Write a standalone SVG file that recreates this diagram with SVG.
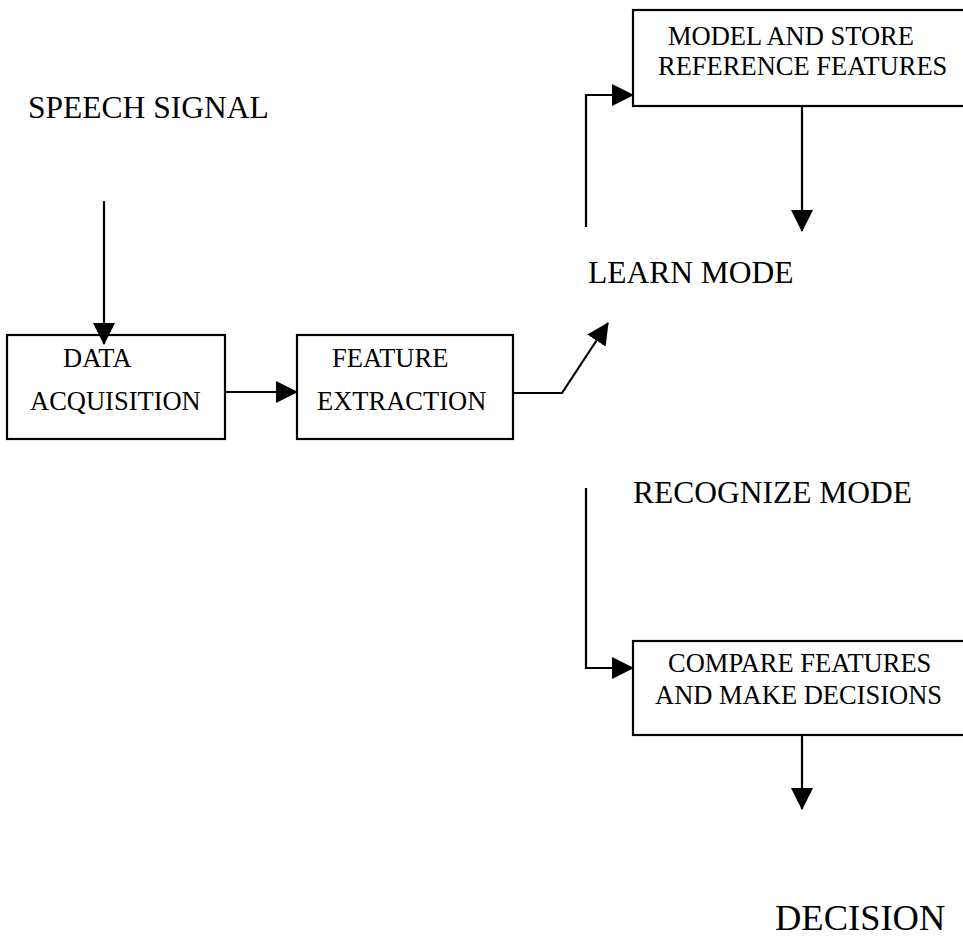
<svg xmlns="http://www.w3.org/2000/svg" width="963" height="940" viewBox="0 0 963 940">
  <style>
    .box { fill: #fff; stroke: #000; stroke-width: 2.2; }
    .wire { fill: none; stroke: #000; stroke-width: 2.2; }
    .label { font-family: "Liberation Serif", "Times New Roman", serif; fill: #000; }
    .big { font-size: 31.5px; }
    .small { font-size: 26.5px; }
  </style>
  <defs>
    <marker id="head" markerUnits="userSpaceOnUse" markerWidth="22" markerHeight="22" viewBox="0 0 22 22" refX="21" refY="11" orient="auto">
      <path d="M0,0 L22,11 L0,22 Z" fill="#000"/>
    </marker>
  </defs>
  <rect width="963" height="940" fill="#fff"/>

  <!-- free-standing labels -->
  <g id="speech-signal">
    <text class="label big" x="28" y="118">SPEECH SIGNAL</text>
  </g>
  <g id="learn-mode">
    <text class="label big" x="588" y="283">LEARN MODE</text>
  </g>
  <g id="recognize-mode">
    <text class="label big" x="633" y="503">RECOGNIZE MODE</text>
  </g>
  <g id="decision">
    <text class="label" font-size="36.5" x="775" y="930">DECISION</text>
  </g>

  <!-- processing blocks -->
  <g id="data-acquisition">
    <rect class="box" x="7" y="335" width="218" height="104"/>
    <text class="label small" x="63" y="367">DATA</text>
    <text class="label small" x="30" y="410">ACQUISITION</text>
  </g>
  <g id="feature-extraction">
    <rect class="box" x="297" y="335" width="216" height="104"/>
    <text class="label small" x="332" y="367">FEATURE</text>
    <text class="label small" x="317" y="410">EXTRACTION</text>
  </g>
  <g id="model-store">
    <rect class="box" x="633" y="10" width="345" height="96"/>
    <text class="label small" x="668" y="45">MODEL AND STORE</text>
    <text class="label small" x="658" y="75">REFERENCE FEATURES</text>
  </g>
  <g id="compare-decide">
    <rect class="box" x="633" y="641" width="345" height="94"/>
    <text class="label small" x="668" y="672">COMPARE FEATURES</text>
    <text class="label small" x="655" y="704">AND MAKE DECISIONS</text>
  </g>

  <!-- connectors -->
  <g id="connectors">
    <path class="wire" d="M104,201 V344" marker-end="url(#head)"/>
    <path class="wire" d="M225,392 H297" marker-end="url(#head)"/>
    <path class="wire" d="M513,393 H562 L608,323" marker-end="url(#head)"/>
    <path class="wire" d="M586,227 V95 H633" marker-end="url(#head)"/>
    <path class="wire" d="M802,106 V231" marker-end="url(#head)"/>
    <path class="wire" d="M586,488 V668 H633" marker-end="url(#head)"/>
    <path class="wire" d="M802,735 V809" marker-end="url(#head)"/>
  </g>
</svg>
